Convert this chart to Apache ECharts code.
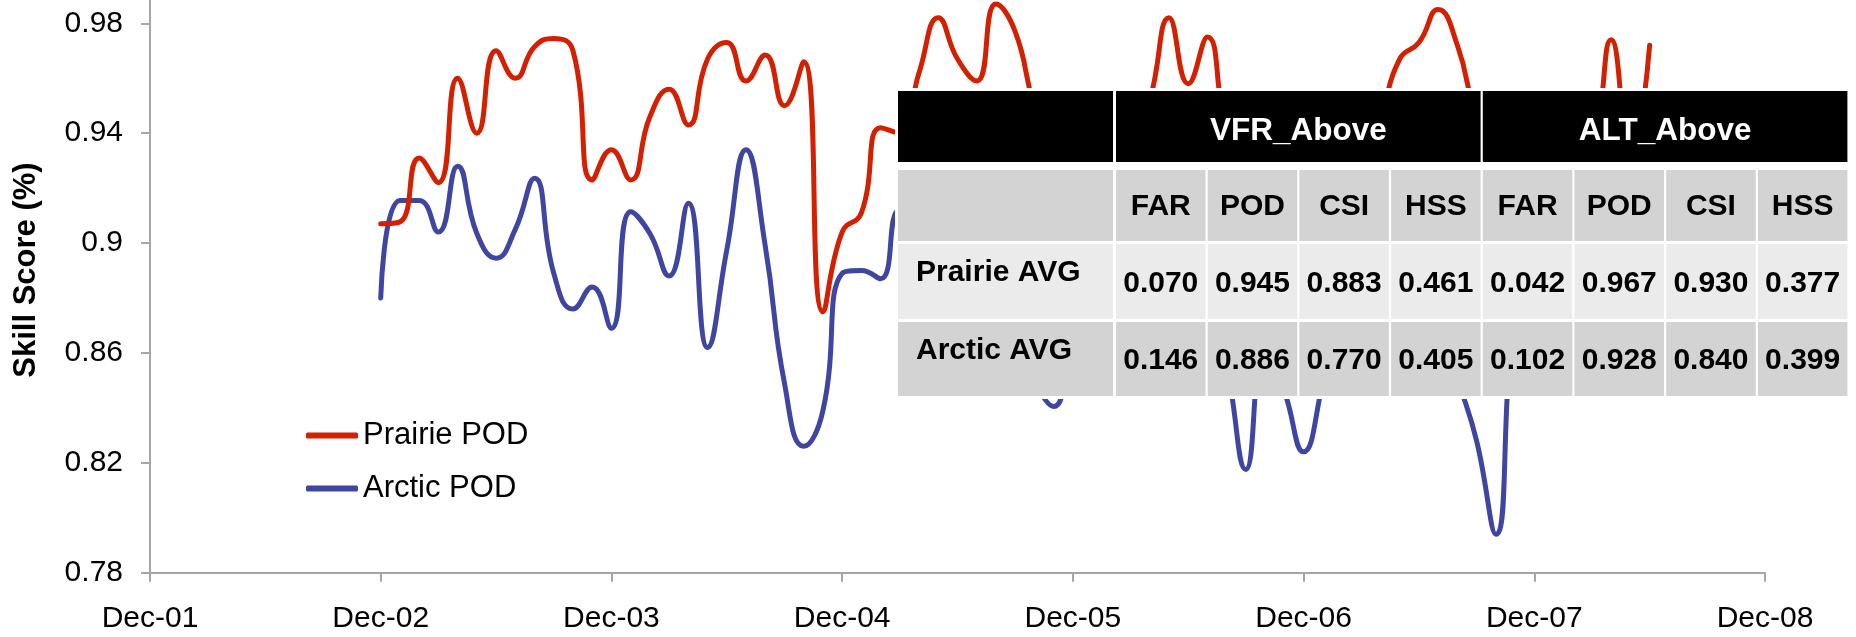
<!DOCTYPE html>
<html>
<head>
<meta charset="utf-8">
<script src="https://cdn.jsdelivr.net/npm/echarts@6/dist/echarts.min.js"></script>
<style>
  html, body { margin: 0; padding: 0; background: #ffffff; }
  #chart { width: 1856px; height: 637px; }
</style>
</head>
<body>
<div id="chart"></div>
<script>
// ---- Data ----
const tickLabels = ['Dec-01', 'Dec-02', 'Dec-03', 'Dec-04', 'Dec-05', 'Dec-06', 'Dec-07', 'Dec-08'];
const yTickValues = [0.78, 0.82, 0.86, 0.9, 0.94, 0.98];
const yAxisTitle = 'Skill Score (%)';
const seriesNames = ['Prairie POD', 'Arctic POD'];
// first monthly value is Dec-02 (12 months after Dec-01)
const firstMonth = 12;
const prairiePOD = [
  0.907, 0.9077, 0.931, 0.922, 0.960, 0.940, 0.970, 0.960, 0.9715, 0.9745, 0.970, 0.923,
  0.934, 0.923, 0.946, 0.956, 0.943, 0.967, 0.973, 0.959, 0.9685, 0.950, 0.966, 0.875,
  0.904, 0.911, 0.942, 0.940, 0.962, 0.982, 0.967, 0.959, 0.987, 0.977, 0.950, 0.935,
  0.940, 0.930, 0.942, 0.935, 0.952, 0.982, 0.958, 0.975, 0.940, 0.925, 0.935, 0.930,
  0.945, 0.935, 0.940, 0.930, 0.946, 0.967, 0.973, 0.985, 0.972, 0.945, 0.930, 0.940,
  0.935, 0.945, 0.930, 0.935, 0.974, 0.930, 0.972
];
const arcticPOD = [
  0.880, 0.9155, 0.9155, 0.904, 0.928, 0.9035, 0.8945, 0.905, 0.9236, 0.889, 0.876, 0.884,
  0.869, 0.9114, 0.9035, 0.888, 0.9145, 0.862, 0.8975, 0.934, 0.899, 0.849, 0.826, 0.839,
  0.889, 0.890, 0.887, 0.912, 0.905, 0.895, 0.910, 0.890, 0.900, 0.870, 0.850, 0.8405,
  0.870, 0.885, 0.900, 0.885, 0.895, 0.890, 0.900, 0.880, 0.855, 0.8176, 0.862, 0.846,
  0.824, 0.849, 0.880, 0.900, 0.885, 0.895, 0.885, 0.875, 0.851, 0.828, 0.794, 0.876,
  0.895, 0.900, 0.885, 0.895, 0.905, 0.890, 0.900
];
// ---- Table content ----
const tableGroups = ['VFR_Above', 'ALT_Above'];
const tableMetrics = ['FAR', 'POD', 'CSI', 'HSS'];
const tableRowLabels = ['Prairie AVG', 'Arctic AVG'];
const prairieAvg = [0.070, 0.945, 0.883, 0.461, 0.042, 0.967, 0.930, 0.377];
const arcticAvg = [0.146, 0.886, 0.770, 0.405, 0.102, 0.928, 0.840, 0.399];

// ---- Build ----
const FONT = "'Liberation Sans', Arial, sans-serif";
const RED = '#d32000';
const BLUE = '#3f46a1';
const toPairs = arr => arr.map((v, i) => [firstMonth + i, v]);

// table layout (pixels)
const T = {
  x0: 898, labelW: 215, colX0: 1116, pitch: 91.7, colW: 89.5,
  rows: [ {y: 91, h: 71}, {y: 170, h: 71}, {y: 244, h: 75}, {y: 322, h: 74} ]
};
const g = [];
function rect(x, y, w, h, fill, z) {
  g.push({ type: 'rect', z: z || 100, silent: true, shape: { x, y, width: w, height: h }, style: { fill } });
}
function txt(x, y, text, fill, align, size) {
  g.push({ type: 'text', z: 102, silent: true, x, y,
    style: { text, fill, fontSize: size || 30, fontWeight: 'bold', fontFamily: FONT,
             align: align || 'center', verticalAlign: 'middle' } });
}
// opaque white table background
rect(895, 88, 955, 311, '#ffffff', 99);
// header row
rect(T.x0, T.rows[0].y, T.labelW, T.rows[0].h, '#000000');
tableGroups.forEach((name, gi) => {
  const x = T.colX0 + gi * 4 * T.pitch;
  const w = 3 * T.pitch + T.colW;
  rect(x, T.rows[0].y, w, T.rows[0].h, '#000000');
  txt(x + w / 2, T.rows[0].y + 40, name, '#ffffff', 'center', 31.5);
});
// metric row
rect(T.x0, T.rows[1].y, T.labelW, T.rows[1].h, '#d3d3d3');
for (let c = 0; c < 8; c++) {
  const x = T.colX0 + c * T.pitch;
  rect(x, T.rows[1].y, T.colW, T.rows[1].h, '#d3d3d3');
  txt(x + T.colW / 2, T.rows[1].y + 37, tableMetrics[c % 4], '#000000');
}
// data rows
[prairieAvg, arcticAvg].forEach((vals, ri) => {
  const row = T.rows[2 + ri];
  const fill = ri === 0 ? '#ebebeb' : '#d3d3d3';
  rect(T.x0, row.y, T.labelW, row.h, fill);
  txt(T.x0 + 18, row.y + 29, tableRowLabels[ri], '#000000', 'left');
  vals.forEach((v, c) => {
    const x = T.colX0 + c * T.pitch;
    rect(x, row.y, T.colW, row.h, fill);
    txt(x + T.colW / 2, row.y + row.h / 2 + 2, v.toFixed(3), '#000000');
  });
});
// y-axis title (rotated, bottom-to-top)
g.push({ type: 'text', z: 102, silent: true, x: 26, y: 270, rotation: Math.PI / 2,
  style: { text: yAxisTitle, fill: '#000000', fontSize: 31, fontWeight: 'bold', fontFamily: FONT,
           align: 'center', verticalAlign: 'middle' } });

// y range: 0.98 sits 23.3px below the top edge, 0.78 at the x axis
const Y_MAX = 0.98 + 23.3 / 2747;

const chart = echarts.init(document.getElementById('chart'), null, { renderer: 'canvas' });
chart.setOption({
  animation: false,
  backgroundColor: '#ffffff',
  grid: { left: 150, right: 91, top: 0, bottom: 64.3, containLabel: false },
  xAxis: {
    type: 'value', min: 0, max: 84, interval: 12,
    axisLine: { show: true, lineStyle: { color: '#a6a6a6', width: 2 } },
    axisTick: { show: true, length: 9, lineStyle: { color: '#a6a6a6', width: 2 } },
    splitLine: { show: false },
    axisLabel: { margin: 31, fontSize: 30, color: '#000000', fontFamily: FONT,
      formatter: v => tickLabels[Math.round(v / 12)] || '' }
  },
  yAxis: {
    type: 'value', min: 0.78, max: Y_MAX, interval: 0.04,
    axisLine: { show: true, lineStyle: { color: '#a6a6a6', width: 2 } },
    axisTick: { show: true, length: 9, customValues: yTickValues,
      lineStyle: { color: '#a6a6a6', width: 2 } },
    splitLine: { show: false },
    axisLabel: { margin: 27, fontSize: 30, color: '#000000', fontFamily: FONT,
      customValues: yTickValues,
      formatter: v => yTickValues.some(t => Math.abs(t - v) < 1e-6) ? String(+v.toFixed(2)) : '' }
  },
  legend: {
    orient: 'vertical', left: 301, top: 415, itemWidth: 52, itemHeight: 6, itemGap: 22,
    icon: 'roundRect',
    textStyle: { fontSize: 31, lineHeight: 30, color: '#000000', fontFamily: FONT },
    data: seriesNames
  },
  series: [
    { name: seriesNames[0], type: 'line', smooth: true, symbol: 'none', z: 3,
      itemStyle: { color: RED },
      lineStyle: { color: RED, width: 5, cap: 'round', join: 'round' },
      data: toPairs(prairiePOD) },
    { name: seriesNames[1], type: 'line', smooth: true, symbol: 'none', z: 2,
      itemStyle: { color: BLUE },
      lineStyle: { color: BLUE, width: 5, cap: 'round', join: 'round' },
      data: toPairs(arcticPOD) }
  ],
  graphic: { elements: g }
});
</script>
</body>
</html>
